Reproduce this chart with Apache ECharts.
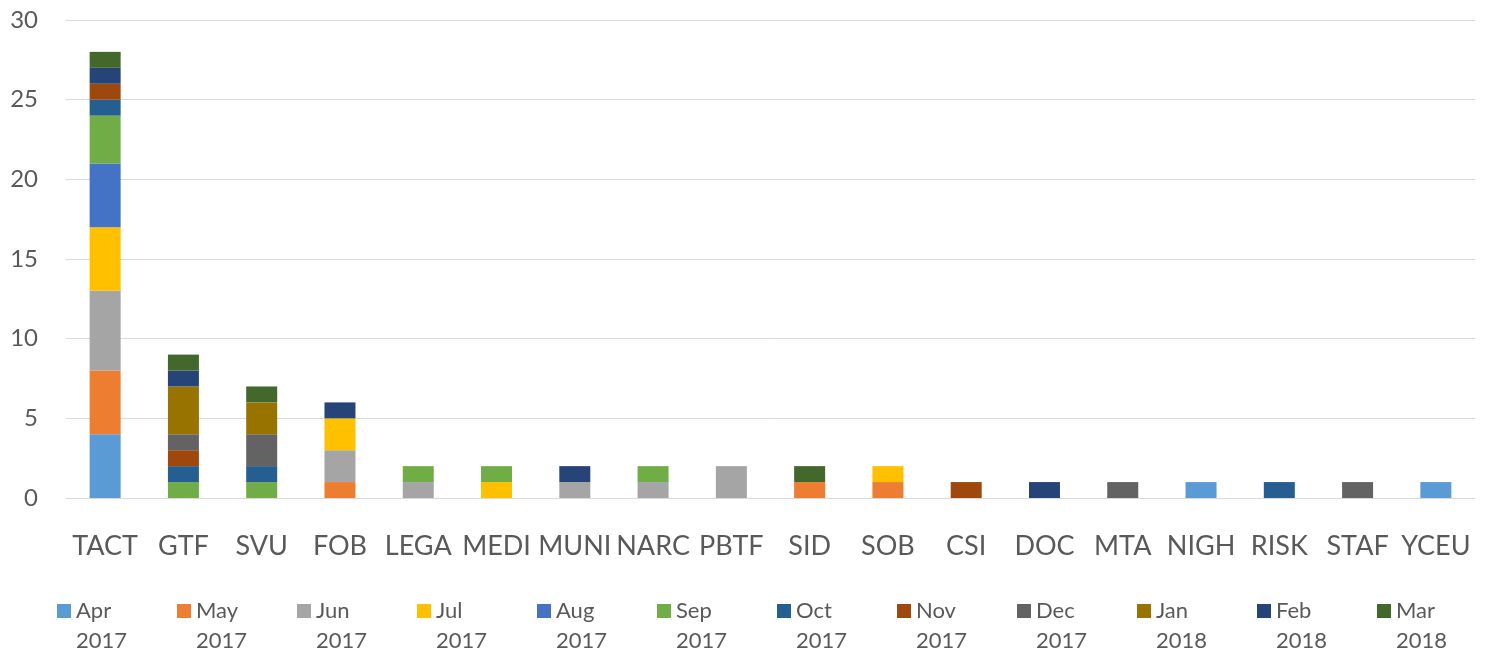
<!DOCTYPE html>
<html>
<head>
<meta charset="utf-8">
<title>Stacked bars</title>
<script src="https://cdn.jsdelivr.net/npm/echarts@6/dist/echarts.min.js"></script>
<style>
  html, body { margin: 0; padding: 0; background: #fff; }
  #main { width: 1488px; height: 653px; }
</style>
</head>
<body>
<div id="main"></div>
<script>
// categories on the x axis
var categories = ['TACT', 'GTF', 'SVU', 'FOB', 'LEGA', 'MEDI', 'MUNI', 'NARC', 'PBTF',
                  'SID', 'SOB', 'CSI', 'DOC', 'MTA', 'NIGH', 'RISK', 'STAF', 'YCEU'];

// one array per month, same order as categories
var apr17 = [4, 0, 0, 0, 0, 0, 0, 0, 0, 0, 0, 0, 0, 0, 1, 0, 0, 1];
var may17 = [4, 0, 0, 1, 0, 0, 0, 0, 0, 1, 1, 0, 0, 0, 0, 0, 0, 0];
var jun17 = [5, 0, 0, 2, 1, 0, 1, 1, 2, 0, 0, 0, 0, 0, 0, 0, 0, 0];
var jul17 = [4, 0, 0, 2, 0, 1, 0, 0, 0, 0, 1, 0, 0, 0, 0, 0, 0, 0];
var aug17 = [4, 0, 0, 0, 0, 0, 0, 0, 0, 0, 0, 0, 0, 0, 0, 0, 0, 0];
var sep17 = [3, 1, 1, 0, 1, 1, 0, 1, 0, 0, 0, 0, 0, 0, 0, 0, 0, 0];
var oct17 = [1, 1, 1, 0, 0, 0, 0, 0, 0, 0, 0, 0, 0, 0, 0, 1, 0, 0];
var nov17 = [1, 1, 0, 0, 0, 0, 0, 0, 0, 0, 0, 1, 0, 0, 0, 0, 0, 0];
var dec17 = [0, 1, 2, 0, 0, 0, 0, 0, 0, 0, 0, 0, 0, 1, 0, 0, 1, 0];
var jan18 = [0, 3, 2, 0, 0, 0, 0, 0, 0, 0, 0, 0, 0, 0, 0, 0, 0, 0];
var feb18 = [1, 1, 0, 1, 0, 0, 1, 0, 0, 0, 0, 0, 1, 0, 0, 0, 0, 0];
var mar18 = [1, 1, 1, 0, 0, 0, 0, 0, 0, 1, 0, 0, 0, 0, 0, 0, 0, 0];

var monthNames = ['Apr', 'May', 'Jun', 'Jul', 'Aug', 'Sep', 'Oct', 'Nov', 'Dec', 'Jan', 'Feb', 'Mar'];
var monthYears = ['2017', '2017', '2017', '2017', '2017', '2017', '2017', '2017', '2017', '2018', '2018', '2018'];
var monthData = [apr17, may17, jun17, jul17, aug17, sep17, oct17, nov17, dec17, jan18, feb18, mar18];

var colors = ['#5B9BD5', '#ED7D31', '#A5A5A5', '#FFC000', '#4472C4', '#70AD47',
              '#255E91', '#9E480E', '#636363', '#997300', '#264478', '#43682B'];

var textColor = '#595959';
var fontName = 'Lato, "Open Sans", sans-serif';

var series = [];
for (var i = 0; i < monthNames.length; i++) {
  series.push({
    name: monthNames[i] + ' ' + monthYears[i],
    type: 'bar',
    stack: 'total',
    barWidth: 31,
    itemStyle: { color: colors[i] },
    data: monthData[i]
  });
}

var myChart = echarts.init(document.getElementById('main'));

var option = {
  color: colors,
  animation: false,
  grid: { left: 66, right: 13, top: 20, bottom: 155 },
  legend: {
    left: 57,
    right: 0,
    top: 570,
    padding: 0,
    itemWidth: 14,
    itemHeight: 14,
    itemGap: 11,
    icon: 'rect',
    // blank first line keeps the square level with the month, like the original
    formatter: function (name) {
      var parts = name.split(' ');
      return '{s| }\n{a|' + parts[0] + '}\n{a|' + parts[1] + '}';
    },
    textStyle: {
      color: textColor,
      fontFamily: fontName,
      fontSize: 22,
      rich: {
        s: { lineHeight: 30, fontSize: 22, width: 90 },
        a: { lineHeight: 30, fontSize: 22, width: 90, color: textColor, fontFamily: fontName }
      }
    }
  },
  xAxis: {
    type: 'category',
    data: categories,
    axisLine: { lineStyle: { color: '#d9d9d9' } },
    axisTick: { show: false },
    axisLabel: {
      interval: 0,
      margin: 35,
      color: textColor,
      fontFamily: fontName,
      fontSize: 27
    }
  },
  yAxis: {
    type: 'value',
    min: 0,
    max: 30,
    interval: 5,
    axisLine: { show: false },
    axisTick: { show: false },
    splitLine: { lineStyle: { color: '#d9d9d9' } },
    axisLabel: {
      margin: 28,
      color: textColor,
      fontFamily: fontName,
      fontSize: 24
    }
  },
  series: series
};

myChart.setOption(option);
</script>
</body>
</html>
